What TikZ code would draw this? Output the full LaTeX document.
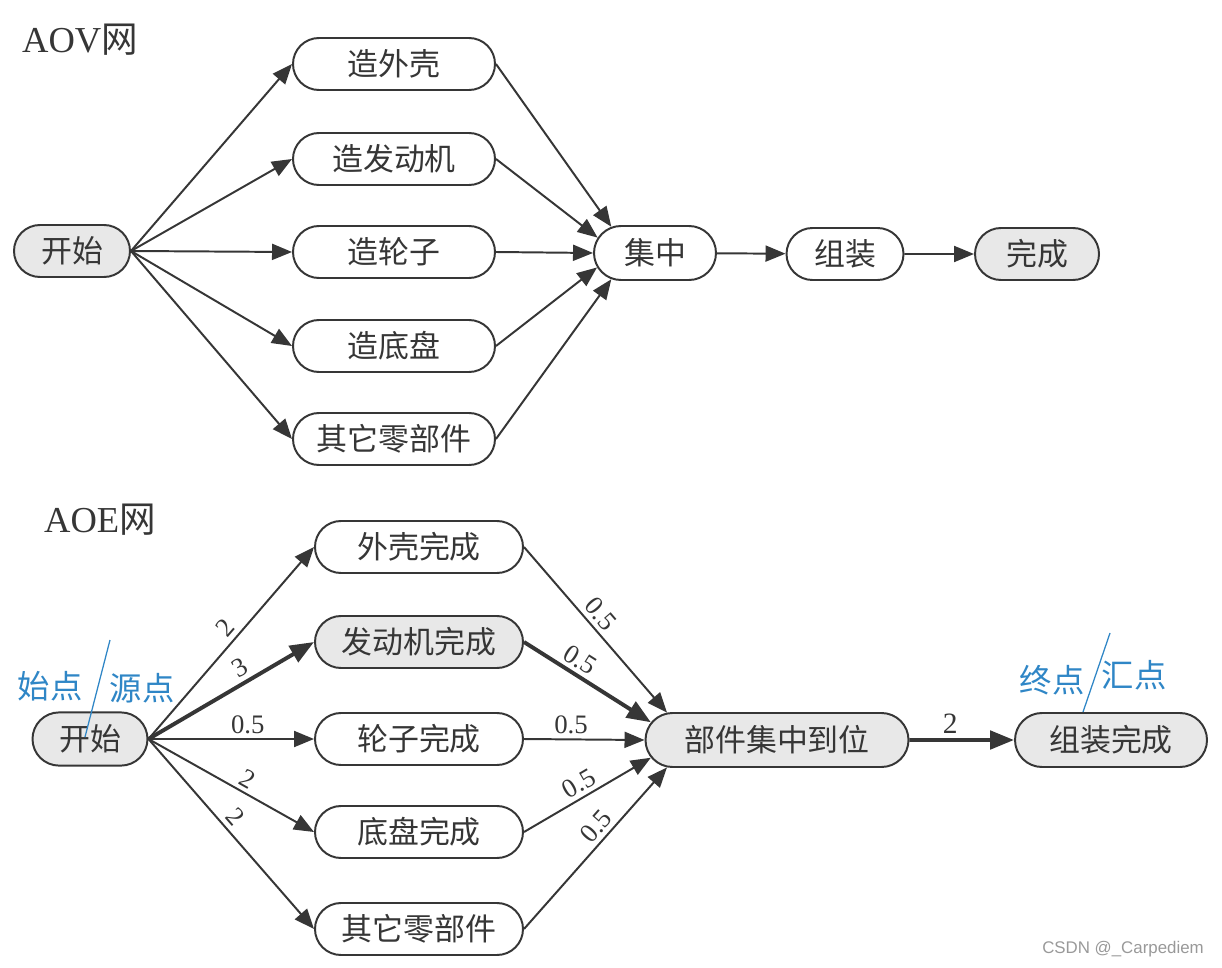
\documentclass[tikz,border=0pt]{standalone}
\usepackage{fontspec}
\setmainfont{Liberation Serif}
\newfontfamily\cjk{Noto Sans CJK SC}
\newfontfamily\wmfont{Liberation Sans}
\usepackage{tikz}
\usetikzlibrary{shapes.misc,arrows.meta}
\definecolor{inkgray}{HTML}{363636}
\definecolor{penblue}{HTML}{2F86C6}
\pgfkeys{tikz/stage/.style={rounded rectangle, 
                                draw=inkgray, 
                                line width=1.4pt, 
                                fill=white, 
                                text=inkgray, 
                                minimum height=1.3cm, 
                                inner sep=0pt, 
                                font=\cjk\fontsize{22}{22}\selectfont}}
\pgfkeys{tikz/hotstage/.style={stage, fill=black!9}}
\pgfkeys{tikz/link/.style={draw=inkgray, line width=1.4pt, 
                               -{Triangle[length=5mm,width=4mm]}}}
\pgfkeys{tikz/critlink/.style={link, line width=2.8pt, 
                                   -{Triangle[length=6mm,width=4.6mm]}}}
\pgfkeys{tikz/wt/.style={sloped, above, text=inkgray, inner sep=3pt, 
                             font=\fontsize{19}{19}\selectfont}}
\pgfkeys{tikz/handnote/.style={text=penblue, inner sep=0pt, 
                                   font=\cjk\fontsize{23}{23}\selectfont}}
\begin{document}
\begin{tikzpicture}
            \useasboundingbox (0,0) rectangle (30.55,-24.2);
            
            \node[text=inkgray, font=\fontsize{26}{26}\selectfont] (aov) at (2.0,-1.0) {AOV{\cjk 网}};
            
            \node[hotstage, minimum width=2.9cm] (a0) at (1.8,-6.275) {开始};
            
                    \node[stage, minimum width=5.05cm] (a1) at (9.85,-1.6) {造外壳};
                    \node[stage, minimum width=5.05cm] (a2) at (9.85,-3.975) {造发动机};
                    \node[stage, minimum width=5.05cm] (a3) at (9.85,-6.3) {造轮子};
                    \node[stage, minimum width=5.05cm] (a4) at (9.85,-8.65) {造底盘};
                    \node[stage, minimum width=5.05cm] (a5) at (9.85,-10.975) {其它零部件};
        
                    \draw[link] (a0.east) -- (a1.west);
                    \draw[link] (a0.east) -- (a2.west);
                    \draw[link] (a0.east) -- (a3.west);
                    \draw[link] (a0.east) -- (a4.west);
                    \draw[link] (a0.east) -- (a5.west);
                    
                    \node[stage, minimum width=3.05cm, minimum height=1.35cm] (a6) at (16.375,-6.325) {集中};
        
                    \draw[link] (a1.east) -- (a6.149);
                    \draw[link] (a2.east) -- (a6.165);
                    \draw[link] (a3.east) -- (a6.west);
                    \draw[link] (a4.east) -- (a6.194);
                    \draw[link] (a5.east) -- (a6.211);
                    
                    \node[stage, minimum width=2.925cm] (a7) at (21.125,-6.35) {组装};
                    \node[hotstage, minimum width=3.1cm] (a8) at (25.925,-6.35) {完成};
        
                    \draw[link] (a6) -- (a7);
                    \draw[link] (a7) -- (a8);
            
            \node[text=inkgray, font=\fontsize{26}{26}\selectfont] (aoe) at (2.5,-13.0) {AOE{\cjk 网}};
            
            \node[hotstage, minimum width=2.875cm, minimum height=1.33cm] (b0) at (2.25,-18.475) {开始};
            
                    \node[stage, minimum width=5.2cm] (b1) at (10.475,-13.675) {外壳完成};
                    \node[hotstage, minimum width=5.2cm] (b2) at (10.475,-16.05) {发动机完成};
                    \node[stage, minimum width=5.2cm] (b3) at (10.475,-18.475) {轮子完成};
                    \node[stage, minimum width=5.2cm] (b4) at (10.475,-20.8) {底盘完成};
                    \node[stage, minimum width=5.2cm] (b5) at (10.475,-23.225) {其它零部件};
        
                    \draw[link] (b0.east) -- node[wt, pos=0.53] {2} (b1.west);
                    \draw[critlink] (b0.east) -- node[wt, pos=0.6] {3} (b2.west);
                    \draw[link] (b0.east) -- node[wt, pos=0.6] {0.5} (b3.west);
                    \draw[link] (b0.east) -- node[wt, pos=0.56] {2} (b4.west);
                    \draw[link] (b0.east) -- node[wt, pos=0.46] {2} (b5.west);
                    
                    \node[hotstage, minimum width=6.575cm, minimum height=1.35cm] (b6) at (19.425,-18.5) {部件集中到位};
        
                    \draw[link] (b1.east) -- node[wt, pos=0.46] {0.5} (b6.166);
                    \draw[critlink] (b2.east) -- node[wt, pos=0.38] {0.5} (b6.172);
                    \draw[link] (b3.east) -- node[wt, pos=0.39] {0.5} (b6.west);
                    \draw[link] (b4.east) -- node[wt, pos=0.49] {0.5} (b6.188);
                    \draw[link] (b5.east) -- node[wt, pos=0.58] {0.5} (b6.194);
                    
                    \node[hotstage, minimum width=4.8cm, minimum height=1.35cm] (b7) at (27.775,-18.5) {组装完成};
        
                    \draw[critlink] (b6) -- node[wt, pos=0.39, font=\fontsize{21}{21}\selectfont] {2} (b7);
            
            \node[handnote] (srcnote) at (1.25,-17.15) {始点};
            \node[handnote] (srcnote2) at (3.55,-17.2) {源点};
            \coordinate (srcslashtop) at (2.75,-16.0);
            \coordinate (srcslashbot) at (2.125,-18.425);
            \draw[penblue, line width=0.9pt] (srcslashtop) -- (srcslashbot);
            
            \node[handnote] (sinknote) at (26.3,-17.0) {终点};
            \node[handnote] (sinknote2) at (28.35,-16.875) {汇点};
            \coordinate (sinkslashtop) at (27.75,-15.825);
            \coordinate (sinkslashbot) at (27.075,-17.8);
            \draw[penblue, line width=0.9pt] (sinkslashtop) -- (sinkslashbot);
            
            \node[text=black!40, font=\wmfont\fontsize{12}{12}\selectfont] (mark) at (28.075,-23.725) {CSDN @\_Carpediem};
        \end{tikzpicture}
\end{document}
